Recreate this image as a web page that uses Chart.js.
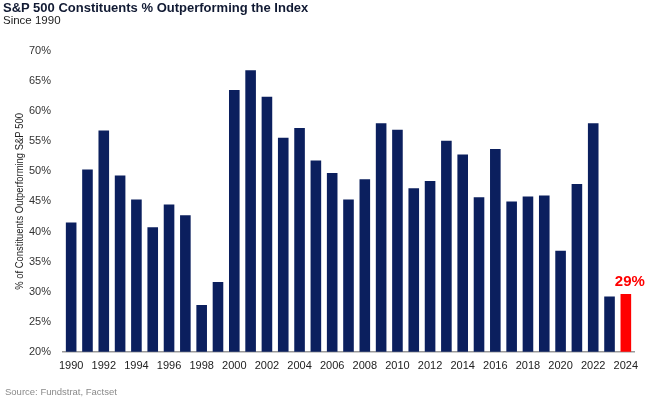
<!DOCTYPE html>
<html>
<head>
<meta charset="utf-8">
<script src="https://cdn.jsdelivr.net/npm/chart.js@4"></script>
<style>
  body { margin: 0; background: #fff; }
  #wrap { position: relative; width: 650px; height: 397px; font-family: "Liberation Sans", Arial, sans-serif; }
  #chart { position: absolute; left: 0; top: 0; }
  .title { position: absolute; left: 3px; top: 0px; font-size: 13px; font-weight: bold; color: #111a33; }
  .subtitle { position: absolute; left: 3px; top: 14px; font-size: 11.5px; color: #222; }
  .source { position: absolute; left: 5px; top: 386px; font-size: 9.5px; color: #8a8a8a; }
</style>
</head>
<body>
<div id="wrap">
  <canvas id="chart" width="650" height="397"></canvas>
  <div class="title">S&amp;P 500 Constituents % Outperforming the Index</div>
  <div class="subtitle">Since 1990</div>
  <div class="source">Source: Fundstrat, Factset</div>
</div>
<script>
// Years on the x axis
const years = [
  1990, 1991, 1992, 1993, 1994, 1995, 1996, 1997, 1998, 1999,
  2000, 2001, 2002, 2003, 2004, 2005, 2006, 2007, 2008, 2009,
  2010, 2011, 2012, 2013, 2014, 2015, 2016, 2017, 2018, 2019,
  2020, 2021, 2022, 2023, 2024
];

// % of constituents outperforming the index
const pctOutperforming = [
  41.5, 50.3, 56.8, 49.3, 45.3, 40.7, 44.5, 42.7, 27.8, 31.6,
  63.5, 66.8, 62.4, 55.6, 57.2, 51.8, 49.7, 45.3, 48.7, 58.0,
  56.9, 47.2, 48.4, 55.1, 52.8, 45.7, 53.7, 45.0, 45.8, 46.0,
  36.8, 47.9, 58.0, 29.2, 29.6
];

// Y axis ticks
const yMin = 20;
const yMax = 70;
const yStep = 5;
const yTitle = "% of Constituents Outperforming S&P 500";

// The highlighted latest year and its label
const highlightYear = 2024;
const highlightLabel = "29%";

const navy = "#0b1f5e";
const red = "#ff0000";

const barColors = years.map(y => (y === highlightYear ? red : navy));

// Callout above the highlighted bar + condensed y axis title
const extrasPlugin = {
  id: "extras",
  afterDatasetsDraw(chart) {
    const ctx = chart.ctx;
    const idx = years.indexOf(highlightYear);
    const bar = chart.getDatasetMeta(0).data[idx];
    if (bar) {
      ctx.save();
      ctx.font = "bold 15px 'Liberation Sans', Arial, sans-serif";
      ctx.fillStyle = red;
      ctx.textAlign = "center";
      ctx.textBaseline = "bottom";
      ctx.fillText(highlightLabel, bar.x + 4, bar.y - 5);
      ctx.restore();
    }

    // narrow-looking axis title, like the original
    const area = chart.chartArea;
    ctx.save();
    ctx.translate(20, (area.top + area.bottom) / 2);
    ctx.rotate(-Math.PI / 2);
    ctx.scale(0.82, 1);
    ctx.font = "11.5px 'Liberation Sans', Arial, sans-serif";
    ctx.fillStyle = "#222";
    ctx.textAlign = "center";
    ctx.textBaseline = "middle";
    ctx.fillText(yTitle, 0, 0);
    ctx.restore();
  }
};

const ctx = document.getElementById("chart");
new Chart(ctx, {
  type: "bar",
  data: {
    labels: years.map(String),
    datasets: [{
      data: pctOutperforming,
      backgroundColor: barColors,
      borderWidth: 0,
      barPercentage: 0.65,
      categoryPercentage: 1.0
    }]
  },
  options: {
    responsive: false,
    animation: false,
    layout: { padding: { top: 51, right: 16, bottom: 16, left: 0 } },
    plugins: {
      legend: { display: false },
      tooltip: { enabled: false }
    },
    scales: {
      x: {
        grid: { display: false, drawTicks: false },
        border: { display: true, color: "#9a9a9a", width: 1.5 },
        ticks: {
          autoSkip: false,
          maxRotation: 0,
          padding: 8,
          color: "#222",
          font: { family: "'Liberation Sans', Arial, sans-serif", size: 11 },
          callback: function (val, i) {
            return i % 2 === 0 ? this.getLabelForValue(val) : "";
          }
        }
      },
      y: {
        min: yMin,
        max: yMax,
        grid: { display: false, drawTicks: false },
        border: { display: false },
        afterFit(scale) { scale.width = 63; },
        ticks: {
          stepSize: yStep,
          padding: 12,
          color: "#333",
          font: { family: "'Liberation Sans', Arial, sans-serif", size: 11 },
          callback: v => v + "%"
        }
      }
    }
  },
  plugins: [extrasPlugin]
});
</script>
</body>
</html>
